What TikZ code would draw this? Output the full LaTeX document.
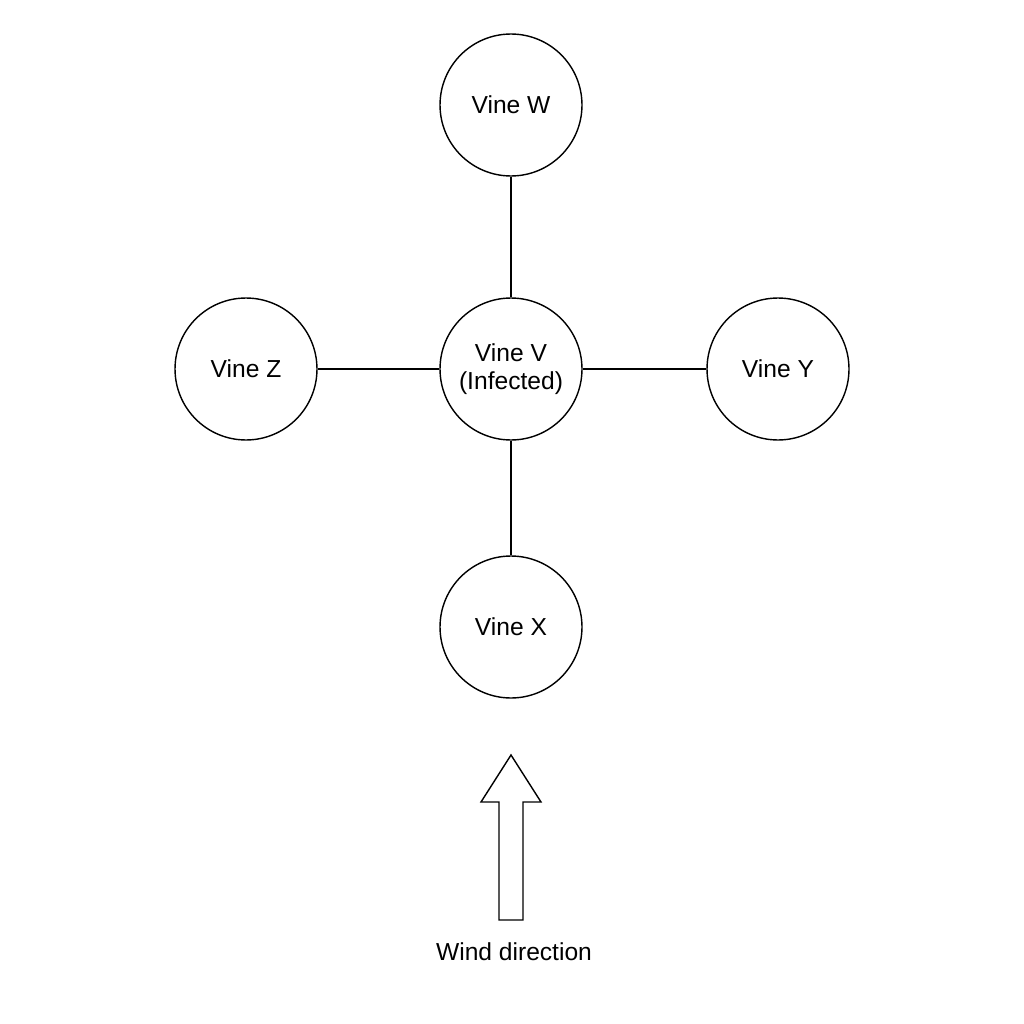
\documentclass[tikz,border=0pt]{standalone}
\usepackage{fontspec}
\setmainfont{Liberation Sans}
\begin{document}
\begin{tikzpicture}[x=0.02cm,y=-0.02cm,
    vine/.style={draw,circle,thick,minimum size=2.84cm,inner sep=0pt,align=center,font=\fontsize{14}{16}\selectfont},
    link/.style={thick}]
      \useasboundingbox (0,0) rectangle (1024,1024);

      % Vines
      \node[vine] (v) at (511,369) {Vine V\\(Infected)};
      \node[vine] (w) at (511,105) {Vine W};
      \node[vine] (z) at (246,369) {Vine Z};
      \node[vine] (y) at (778,369) {Vine Y};
      \node[vine] (x) at (511,627) {Vine X};

      % Links
      \foreach \n in {w,z,y,x} {
        \draw[link] (v) -- (\n);
      }

      % Wind arrow
      \draw[thick] (499,920) -- (499,802) -- (481,802) -- (511,755)
        -- (541,802) -- (523,802) -- (523,920) -- cycle;
      \node[font=\fontsize{14}{16}\selectfont] (wind) at (514,952) {Wind direction};
\end{tikzpicture}
\end{document}
